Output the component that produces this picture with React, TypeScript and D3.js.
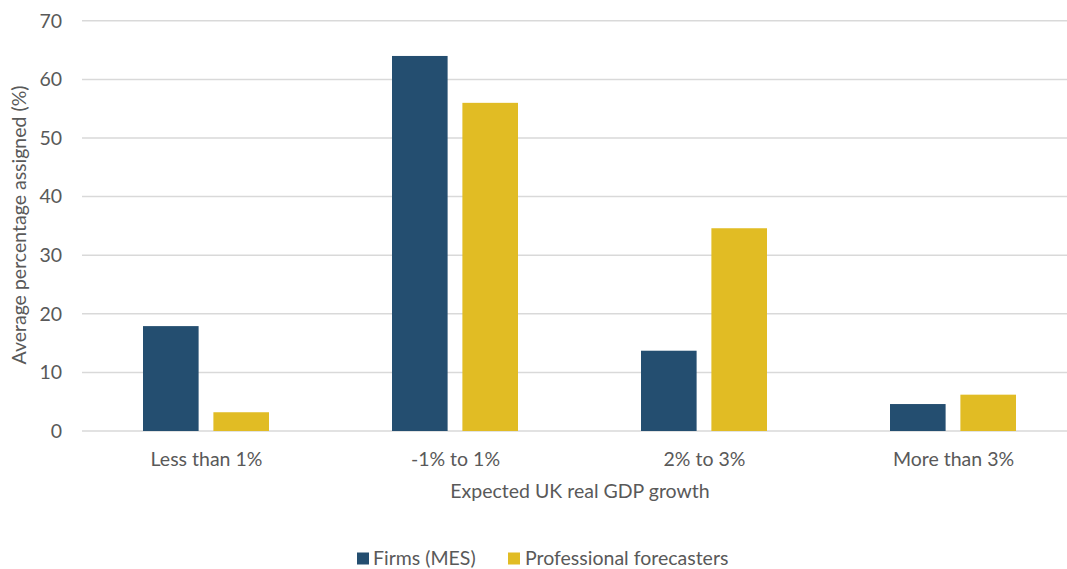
import React from "react";
import * as d3 from "d3";

const categories = ["Less than 1%", "-1% to 1%", "2% to 3%", "More than 3%"];
const seriesNames = ["Firms (MES)", "Professional forecasters"];
const firmsValues = [17.9, 64.0, 13.7, 4.6];
const forecasterValues = [3.2, 56.0, 34.6, 6.2];
const yTicks = [0, 10, 20, 30, 40, 50, 60, 70];
const colors = ["#244E70", "#E1BC24"];

const W = 1067;
const H = 569;
const FONT = "Lato, 'Open Sans', sans-serif";
const TEXT = "#595959";
const FS = 19.5;

export default function App() {
  const x0 = d3.scaleBand<string>().domain(categories).range([82, 1078]).paddingInner(0).paddingOuter(0);
  const x1 = d3.scaleBand<string>().domain(seriesNames).range([61, 187]).paddingInner(0.21);
  const y = d3.scaleLinear().domain([0, 70]).range([431, 20.8]);
  const series = [firmsValues, forecasterValues];

  return (
    <div style={{ position: "absolute", left: 0, top: 0 }}>
      <svg width={W} height={H} style={{ display: "block", background: "#fff" }}>
        {yTicks.map((t) => (
          <g key={t}>
            <line x1={82} x2={1078} y1={y(t)} y2={y(t)} stroke="#D9D9D9" strokeWidth={1.5} />
            <text x={62} y={y(t)} dy="0.35em" textAnchor="end" fontFamily={FONT} fontSize={FS} fill={TEXT}>
              {t}
            </text>
          </g>
        ))}
        {categories.map((c, i) => (
          <g key={c}>
            {series.map((vals, s) => (
              <rect
                key={s}
                x={(x0(c) as number) + (x1(seriesNames[s]) as number)}
                y={y(vals[i])}
                width={x1.bandwidth()}
                height={y(0) - y(vals[i])}
                fill={colors[s]}
              />
            ))}
            <text
              x={(x0(c) as number) + x0.bandwidth() / 2}
              y={466}
              textAnchor="middle"
              fontFamily={FONT}
              fontSize={FS}
              fill={TEXT}
            >
              {c}
            </text>
          </g>
        ))}
        <text x={580} y={498} textAnchor="middle" fontFamily={FONT} fontSize={FS} fill={TEXT}>
          Expected UK real GDP growth
        </text>
        <text
          transform={`translate(26,225) rotate(-90)`}
          textAnchor="middle"
          fontFamily={FONT}
          fontSize={FS}
          fill={TEXT}
        >
          Average percentage assigned (%)
        </text>
        <g>
          <rect x={357} y={552.5} width={12} height={12} fill={colors[0]} />
          <text x={373} y={565} fontFamily={FONT} fontSize={FS} fill={TEXT}>
            {seriesNames[0]}
          </text>
          <rect x={508} y={552.5} width={12} height={12} fill={colors[1]} />
          <text x={525} y={565} fontFamily={FONT} fontSize={FS} fill={TEXT}>
            {seriesNames[1]}
          </text>
        </g>
      </svg>
    </div>
  );
}
